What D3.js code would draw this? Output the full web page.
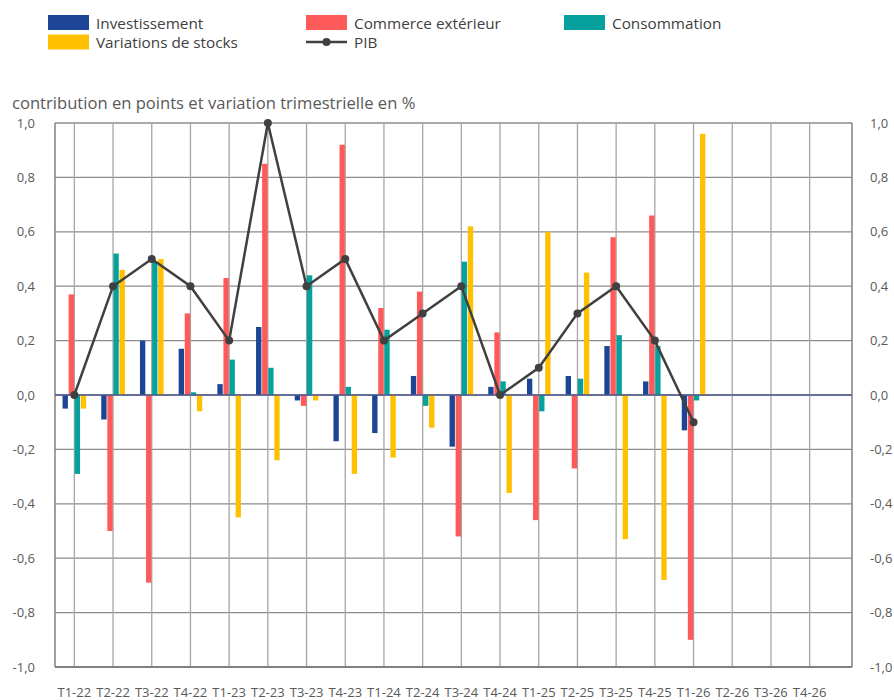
<!DOCTYPE html>
<html>
<head>
<meta charset="utf-8">
<script src="https://cdn.jsdelivr.net/npm/d3@7"></script>
<style>
  body { margin: 0; background: #fff; }
  svg { font-family: 'Open Sans', sans-serif; }
</style>
</head>
<body>
<svg id="area" width="894" height="700"></svg>
<script>
const quarters = ['T1-22', 'T2-22', 'T3-22', 'T4-22', 'T1-23', 'T2-23', 'T3-23', 'T4-23',
  'T1-24', 'T2-24', 'T3-24', 'T4-24', 'T1-25', 'T2-25', 'T3-25', 'T4-25',
  'T1-26', 'T2-26', 'T3-26', 'T4-26'];

const investissement = [-0.05, -0.09, 0.20, 0.17, 0.04, 0.25, -0.02, -0.17, -0.14, 0.07,
  -0.19, 0.03, 0.06, 0.07, 0.18, 0.05, -0.13, null, null, null];
const commerce = [0.37, -0.50, -0.69, 0.30, 0.43, 0.85, -0.04, 0.92, 0.32, 0.38,
  -0.52, 0.23, -0.46, -0.27, 0.58, 0.66, -0.90, null, null, null];
const consommation = [-0.29, 0.52, 0.49, 0.01, 0.13, 0.10, 0.44, 0.03, 0.24, -0.04,
  0.49, 0.05, -0.06, 0.06, 0.22, 0.18, -0.02, null, null, null];
const stocks = [-0.05, 0.46, 0.50, -0.06, -0.45, -0.24, -0.02, -0.29, -0.23, -0.12,
  0.62, -0.36, 0.60, 0.45, -0.53, -0.68, 0.96, null, null, null];
const pib = [0.0, 0.4, 0.5, 0.4, 0.2, 1.0, 0.4, 0.5, 0.2, 0.3,
  0.4, 0.0, 0.1, 0.3, 0.4, 0.2, -0.1, null, null, null];

const yTicks = [-1, -0.8, -0.6, -0.4, -0.2, 0, 0.2, 0.4, 0.6, 0.8, 1];

const series = [
  { name: 'Investissement', values: investissement, color: '#1c4595' },
  { name: 'Commerce extérieur', values: commerce, color: '#ff5a5a' },
  { name: 'Consommation', values: consommation, color: '#06a19c' },
  { name: 'Variations de stocks', values: stocks, color: '#ffc000' },
];

const svg = d3.select('#area');
const plotLeft = 55;
const plotRight = 852;
const plotTop = 123;
const plotBottom = 667;
const fmt = (v) => d3.format('.1f')(v).replace('.', ',').replace('−', '-');

const x = d3.scaleBand().domain(quarters).range([plotLeft, 829]);
const xInner = d3.scaleBand().domain(series.map((s) => s.name)).range([-11.8, 11.8]).paddingInner(0.12);
const y = d3.scaleLinear().domain([-1, 1]).range([plotBottom, plotTop]);
const cx = (q) => x(q) + x.bandwidth() / 2;

// grid
svg.append('g')
  .selectAll('line')
  .data(yTicks)
  .join('line')
  .attr('x1', plotLeft)
  .attr('x2', plotRight)
  .attr('y1', (d) => y(d))
  .attr('y2', (d) => y(d))
  .attr('stroke', '#8c8c8c')
  .attr('stroke-width', 1.3);

svg.append('g')
  .selectAll('line')
  .data(quarters)
  .join('line')
  .attr('x1', cx)
  .attr('x2', cx)
  .attr('y1', plotTop)
  .attr('y2', plotBottom)
  .attr('stroke', '#a6a6a6')
  .attr('stroke-width', 1.3);

// axes frame
svg.append('line')
  .attr('x1', plotLeft).attr('x2', plotLeft).attr('y1', plotTop).attr('y2', plotBottom)
  .attr('stroke', '#808080').attr('stroke-width', 1.5);
svg.append('line')
  .attr('x1', plotRight).attr('x2', plotRight).attr('y1', plotTop).attr('y2', plotBottom)
  .attr('stroke', '#808080').attr('stroke-width', 1.5);
svg.append('line')
  .attr('x1', plotLeft).attr('x2', plotRight).attr('y1', plotBottom).attr('y2', plotBottom)
  .attr('stroke', '#808080').attr('stroke-width', 2);

// bars
const barData = [];
series.forEach((s) => {
  s.values.forEach((v, i) => {
    if (v !== null) barData.push({ q: quarters[i], v, name: s.name, color: s.color });
  });
});

svg.append('g')
  .selectAll('rect')
  .data(barData)
  .join('rect')
  .attr('x', (d) => cx(d.q) + xInner(d.name))
  .attr('width', xInner.bandwidth())
  .attr('y', (d) => y(Math.max(0, d.v)))
  .attr('height', (d) => Math.abs(y(d.v) - y(0)))
  .attr('fill', (d) => d.color);

// zero line
svg.append('line')
  .attr('x1', plotLeft).attr('x2', plotRight).attr('y1', y(0)).attr('y2', y(0))
  .attr('stroke', '#4f5b8f').attr('stroke-width', 1.5);

// PIB line
const pibData = pib.map((v, i) => ({ q: quarters[i], v })).filter((d) => d.v !== null);
svg.append('path')
  .datum(pibData)
  .attr('fill', 'none')
  .attr('stroke', '#404040')
  .attr('stroke-width', 2.5)
  .attr('d', d3.line().x((d) => cx(d.q)).y((d) => y(d.v)));

svg.append('g')
  .selectAll('circle')
  .data(pibData)
  .join('circle')
  .attr('cx', (d) => cx(d.q))
  .attr('cy', (d) => y(d.v))
  .attr('r', 4)
  .attr('fill', '#404040');

// y labels, both sides
const labelColor = '#595959';
svg.append('g')
  .selectAll('text')
  .data(yTicks)
  .join('text')
  .attr('x', 35)
  .attr('y', (d) => y(d))
  .attr('dy', '0.35em')
  .attr('text-anchor', 'end')
  .attr('font-size', 13)
  .attr('fill', labelColor)
  .text(fmt);

svg.append('g')
  .selectAll('text')
  .data(yTicks)
  .join('text')
  .attr('x', 870)
  .attr('y', (d) => y(d))
  .attr('dy', '0.35em')
  .attr('font-size', 13)
  .attr('fill', labelColor)
  .text(fmt);

// x labels
svg.append('g')
  .selectAll('text')
  .data(quarters)
  .join('text')
  .attr('x', cx)
  .attr('y', 692)
  .attr('dy', '0.35em')
  .attr('text-anchor', 'middle')
  .attr('font-size', 13)
  .attr('fill', labelColor)
  .text((d) => d);

// y title
svg.append('text')
  .attr('x', 12)
  .attr('y', 109)
  .attr('font-size', 16.6)
  .attr('fill', labelColor)
  .text('contribution en points et variation trimestrielle en %');

// legend
const legendItems = [
  { name: 'Investissement', color: '#1c4595', type: 'rect', lx: 48, ly: 22.5 },
  { name: 'Commerce extérieur', color: '#ff5a5a', type: 'rect', lx: 306, ly: 22.5 },
  { name: 'Consommation', color: '#06a19c', type: 'rect', lx: 564, ly: 22.5 },
  { name: 'Variations de stocks', color: '#ffc000', type: 'rect', lx: 48, ly: 42 },
  { name: 'PIB', color: '#404040', type: 'line', lx: 306, ly: 42 },
];

const legend = svg.append('g')
  .selectAll('g')
  .data(legendItems)
  .join('g')
  .attr('transform', (d) => `translate(${d.lx},${d.ly})`);

legend.filter((d) => d.type === 'rect')
  .append('rect')
  .attr('y', -7.5)
  .attr('width', 41)
  .attr('height', 15)
  .attr('fill', (d) => d.color);

const lineItems = legend.filter((d) => d.type === 'line');
lineItems.append('line')
  .attr('x1', 0).attr('x2', 41)
  .attr('stroke', (d) => d.color)
  .attr('stroke-width', 2.5);
lineItems.append('circle')
  .attr('cx', 20.5)
  .attr('r', 4)
  .attr('fill', (d) => d.color);

legend.append('text')
  .attr('x', 48)
  .attr('dy', '0.4em')
  .attr('font-size', 15.3)
  .attr('fill', '#404040')
  .text((d) => d.name);
</script>
</body>
</html>
